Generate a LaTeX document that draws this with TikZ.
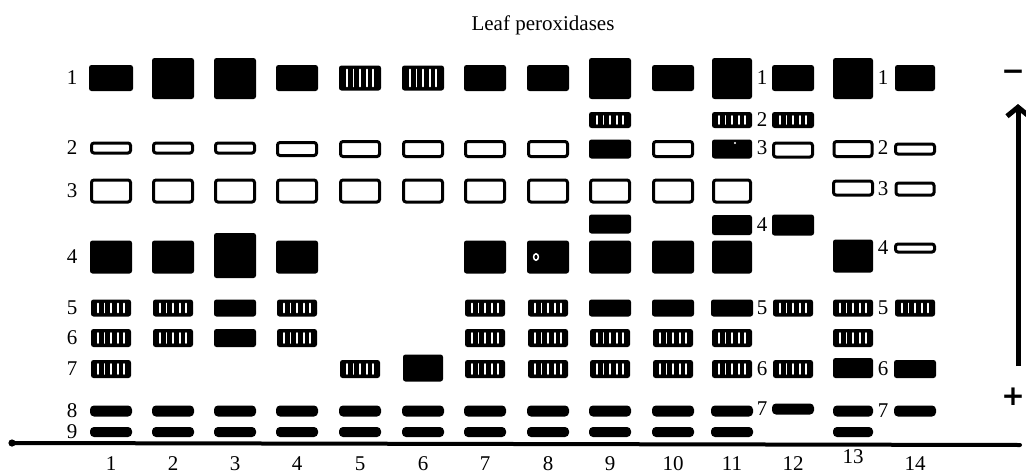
\documentclass[tikz,border=0pt]{standalone}
\usepackage{fontspec}
\setmainfont{Liberation Serif}
\newfontfamily\signfont{DejaVu Sans}
\usetikzlibrary{arrows.meta}

\begin{document}
\begin{tikzpicture}[
  x=1pt, y=-1pt,
  every node/.style={font=\fontsize{21}{24}\selectfont},
  full/.style={
    fill=black,
    rounded corners=2.5pt,
    inner sep=0pt,
    minimum width=42pt
  },
  hollow/.style={
    draw=black,
    fill=white,
    line width=3pt,
    rounded corners=2.5pt,
    inner sep=0pt,
    minimum width=39pt
  },
  hatch/.style={
    full,
    minimum height=17pt,
    path picture={
      \foreach \k in {-2,...,2}
        \draw[white, line width=1.8pt, line cap=round]
          ([xshift=\k*6.6pt, yshift=-4pt]path picture bounding box.north) --
          ([xshift=\k*6.6pt, yshift=4pt]path picture bounding box.south);
    }
  },
  slim/.style={
    full,
    rounded corners=4pt,
    minimum height=11pt
  },
  lanenum/.style={anchor=base, inner sep=0pt},
  sign/.style={font=\signfont\bfseries\fontsize{28}{28}\selectfont, inner sep=0pt}
]
\useasboundingbox (0,0) rectangle (1026,474);

% Title
\node (title) at (543,25) {Leaf peroxidases};

% Row labels on the left
\foreach \r/\ry in {1/78,2/148,3/191,4/257,5/308,6/338,7/369,8/411,9/432}
  \node (row\r) at (72,\ry) {\r};

% Row 1
\node[full, minimum width=44pt, minimum height=26pt] (b1-1) at (111,78) {};
\node[full, minimum height=41pt] (b2-1) at (173,78.5) {};
\node[full, minimum height=41pt] (b3-1) at (235,78.5) {};
\node[full, minimum height=26pt] (b4-1) at (297,78) {};
\node[hatch, minimum height=25pt] (b5-1) at (360,78) {};
\node[hatch, minimum height=25pt] (b6-1) at (423,78) {};
\node[full, minimum height=26pt] (b7-1) at (485,78) {};
\node[full, minimum height=26pt] (b8-1) at (548,78) {};
\node[full, minimum height=41pt] (b9-1) at (610,78.5) {};
\node[full, minimum height=26pt] (b10-1) at (673,78) {};
\node[full, minimum width=40pt, minimum height=41pt] (b11-1) at (732,78.5) {};
\node[full, minimum height=26pt] (b12-1) at (793,78) {};
\node[full, minimum width=40pt, minimum height=41pt] (b13-1) at (853,78.5) {};
\node[full, minimum width=40pt, minimum height=26pt] (b14-1) at (915,78) {};
\node (lab11-1) at (762,78) {1};
\node (lab13-1) at (883,78) {1};

% Extra band above row 2
\node[hatch, minimum height=16pt] (b9-x) at (610,120) {};
\node[hatch, minimum width=40pt, minimum height=16pt] (b11-x) at (732,120) {};
\node[hatch, minimum height=16pt] (b12-x) at (793,120) {};
\node (lab11-x) at (762,120) {2};

% Row 2
\node[hollow, minimum height=10pt] (b1-2) at (111,148) {};
\node[hollow, minimum height=10pt] (b2-2) at (173,148) {};
\node[hollow, minimum height=10pt] (b3-2) at (235,148) {};
\node[hollow, minimum height=13pt] (b4-2) at (297,149) {};
\foreach \lx/\ln in {360/5,423/6,485/7,548/8,673/10}
  \node[hollow, minimum height=15pt] (b\ln-2) at (\lx,149) {};
\node[full, minimum height=19pt] (b9-2) at (610,149) {};
\node[full, minimum width=40pt, minimum height=19pt] (b11-2) at (732,149) {};
\fill[white] (735,143) circle (1.2pt);
\node[hollow, minimum height=14pt] (b12-2) at (793,150) {};
\node[hollow, minimum width=38pt, minimum height=15pt] (b13-2) at (853,149) {};
\node[hollow, minimum height=10pt] (b14-2) at (915,149) {};
\node (lab11-2) at (762,148) {3};
\node (lab13-2) at (883,148) {2};

% Row 3
\foreach \lx/\ln in {111/1,173/2,235/3,297/4,360/5,423/6,485/7,548/8,610/9,673/10}
  \node[hollow, minimum height=22pt] (b\ln-3) at (\lx,191) {};
\node[hollow, minimum width=37pt, minimum height=22pt] (b11-3) at (732,191) {};
\node[hollow, minimum height=14pt] (b13-3) at (853,188) {};
\node[hollow, minimum width=38pt, minimum height=12pt] (b14-3) at (915,189) {};
\node (lab13-3) at (883,189) {3};

% Extra band above row 4
\node[full, minimum height=19pt] (b9-y) at (610,224) {};
\node[full, minimum width=40pt, minimum height=20pt] (b11-y) at (732,225) {};
\node[full, minimum height=21pt] (b12-y) at (793,225) {};
\node (lab11-y) at (762,225) {4};

% Row 4
\foreach \lx/\ln in {111/1,173/2,297/4,485/7,548/8,610/9,673/10}
  \node[full, minimum height=33pt] (b\ln-4) at (\lx,257) {};
\node[full, minimum height=45pt] (b3-4) at (235,255.5) {};
\node[full, minimum width=40pt, minimum height=33pt] (b11-4) at (732,257) {};
\node[full, minimum width=40pt, minimum height=33pt] (b13-4) at (853,256) {};
\draw[white, line width=1.5pt] (536,257) ellipse (2.4 and 3.2);
\node[hollow, minimum height=8pt] (b14-4) at (915,248) {};
\node (lab13-4) at (883,248) {4};

% Row 5
\foreach \lx/\ln in {111/1,173/2,297/4,485/7,548/8,793/12,853/13,915/14}
  \node[hatch, minimum width=40pt] (b\ln-5) at (\lx,308) {};
\foreach \lx/\ln in {235/3,610/9,673/10,732/11}
  \node[full, minimum height=17pt] (b\ln-5) at (\lx,308) {};
\node (lab11-5) at (762,308) {5};
\node (lab13-5) at (883,308) {5};

% Row 6
\foreach \lx/\ln in {111/1,173/2,297/4,485/7,548/8,610/9,673/10,732/11,853/13}
  \node[hatch, minimum width=40pt, minimum height=18pt] (b\ln-6) at (\lx,338) {};
\node[full, minimum height=18pt] (b3-6) at (235,338) {};

% Row 7
\foreach \lx/\ln in {111/1,360/5,485/7,548/8,610/9,673/10,732/11,793/12}
  \node[hatch, minimum width=40pt, minimum height=18pt] (b\ln-7) at (\lx,369) {};
\node[full, minimum width=40pt, minimum height=27pt] (b6-7) at (423,368) {};
\node[full, minimum width=40pt, minimum height=20pt] (b13-7) at (853,368) {};
\node[full, minimum height=18pt] (b14-7) at (915,369) {};
\node (lab11-7) at (762,369) {6};
\node (lab13-7) at (883,369) {6};

% Rows 8 and 9
\foreach \lx/\ln in {111/1,173/2,235/3,297/4,360/5,423/6,485/7,548/8,610/9,673/10,732/11} {
  \node[slim] (b\ln-8) at (\lx,411) {};
  \node[slim, minimum height=10pt] (b\ln-9) at (\lx,432) {};
}
\node[slim] (b12-8) at (793,409) {};
\node[slim, minimum width=40pt] (b13-8) at (853,411) {};
\node[slim] (b14-8) at (915,411) {};
\node[slim, minimum width=40pt, minimum height=10pt] (b13-9) at (853,432) {};
\node (lab11-8) at (762,409) {7};
\node (lab13-8) at (883,411) {7};

% Base line
\coordinate (axl) at (12,443);
\coordinate (axr) at (1020,445);
\draw[line width=4pt, line cap=round] (axl) -- (axr);
\fill (axl) circle (3.6pt);

% Lane numbers
\foreach \lx/\ln in {111/1,173/2,235/3,297/4,360/5,423/6,485/7,548/8,610/9,673/10,732/11,793/12,915/14}
  \node[lanenum] (lane\ln) at (\lx,470) {\ln};
\node[lanenum] (lane13) at (853,463) {13};

% Direction of migration
\node[sign] (minus) at (1013,75) {−};
\node[sign] (plus) at (1013,397) {+};
\coordinate (arrbot) at (1018,366);
\coordinate (arrtop) at (1018,104);
\draw[line width=5pt, -{Straight Barb[length=9pt, width=22pt]}] (arrbot) -- (arrtop);

\end{tikzpicture}
\end{document}
